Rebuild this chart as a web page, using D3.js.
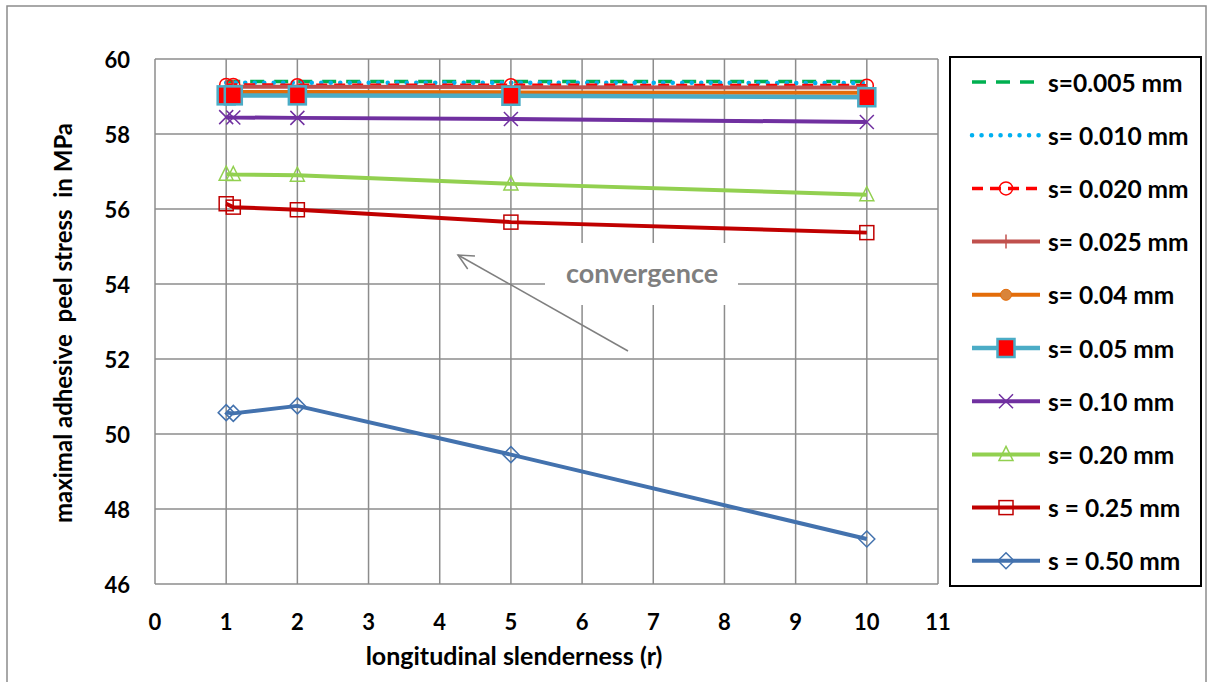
<!DOCTYPE html>
<html><head><meta charset="utf-8">
<script src="https://cdn.jsdelivr.net/npm/d3@7"></script>
<style>body{margin:0;background:#fff}svg{display:block}text{font-family:Lato,"Open Sans",sans-serif;font-weight:700}</style>
</head><body>
<svg id="c" width="1213" height="682"></svg>
<script>
const xValues = [1, 1.1, 2, 5, 10];
const seriesNames = ["s=0.005 mm","s= 0.010 mm","s= 0.020 mm","s= 0.025 mm","s= 0.04 mm","s= 0.05 mm","s= 0.10 mm","s= 0.20 mm","s = 0.25 mm","s = 0.50 mm"];
const s005 = [59.40, 59.40, 59.40, 59.40, 59.40];
const s010 = [59.37, 59.37, 59.37, 59.37, 59.36];
const s020 = [59.31, 59.31, 59.30, 59.30, 59.29];
const s025 = [59.26, 59.26, 59.26, 59.25, 59.24];
const s040 = [59.12, 59.12, 59.12, 59.11, 59.10];
const s050 = [59.03, 59.03, 59.03, 59.02, 58.98];
const s100 = [58.45, 58.44, 58.43, 58.40, 58.32];
const s200 = [56.93, 56.92, 56.90, 56.67, 56.38];
const s250 = [56.14, 56.05, 55.98, 55.65, 55.37];
const s500 = [50.57, 50.55, 50.75, 49.45, 47.20];
const xTicks = [0,1,2,3,4,5,6,7,8,9,10,11];
const yTicks = [46,48,50,52,54,56,58,60];
const xTitle = "longitudinal slenderness (r)";
const yTitle = "maximal adhesive  peel stress  in MPa";
const noteText = "convergence";

const styles = [
  {c:"#00B050", w:3.5, dash:"14,10", m:null},
  {c:"#00B0F0", w:4.5, dash:"0.1,9.4", cap:"round", m:null},
  {c:"#FF0000", w:3.5, dash:"11,7", m:"circle"},
  {c:"#C0504D", w:4, m:"plus"},
  {c:"#E36C09", w:4, m:"dot"},
  {c:"#4BACC6", w:4.5, m:"bigsquare"},
  {c:"#7030A0", w:4, m:"x"},
  {c:"#92D050", w:4, m:"triangle"},
  {c:"#C00000", w:4, m:"square"},
  {c:"#4372AE", w:4, m:"diamond"}
];
const allSeries = [s005,s010,s020,s025,s040,s050,s100,s200,s250,s500];

const svg = d3.select("#c");
const x = d3.scaleLinear().domain([0,11]).range([155,938]);
const y = d3.scaleLinear().domain([46,60]).range([584,59]);

// outer frame
svg.append("rect").attr("x",7).attr("y",6).attr("width",1199).attr("height",690)
  .attr("fill","none").attr("stroke","#8c8c8c").attr("stroke-width",1.5);

const gridC = "#8c8c8c";
const g = svg.append("g");
g.selectAll(".vx").data(xTicks).join("line")
  .attr("x1",d=>x(d)).attr("x2",d=>x(d)).attr("y1",y(60)).attr("y2",y(46))
  .attr("stroke",gridC).attr("stroke-width",1.5);
g.selectAll(".hy").data(yTicks).join("line")
  .attr("x1",x(0)).attr("x2",x(11)).attr("y1",d=>y(d)).attr("y2",d=>y(d))
  .attr("stroke",gridC).attr("stroke-width",1.5);

// tick labels
svg.selectAll(".yt").data(yTicks).join("text")
  .attr("x",130).attr("y",d=>y(d)).attr("text-anchor","end").attr("dominant-baseline","central")
  .attr("font-size",22).attr("fill","#000").text(d=>d);
svg.selectAll(".xt").data(xTicks).join("text")
  .attr("x",d=>x(d)).attr("y",621).attr("text-anchor","middle").attr("dominant-baseline","central")
  .attr("font-size",22).attr("fill","#000").text(d=>d);

svg.append("text").attr("x",514).attr("y",655).attr("text-anchor","middle").attr("dominant-baseline","central")
  .attr("font-size",25).text(xTitle);
svg.append("text").attr("transform","translate(62,323) rotate(-90)").attr("text-anchor","middle")
  .attr("dominant-baseline","central").attr("font-size",24).attr("xml:space","preserve").style("white-space","pre").text(yTitle);

// annotation box
svg.append("rect").attr("x",545).attr("y",243).attr("width",193).attr("height",62).attr("fill","#fff");
svg.append("text").attr("x",642).attr("y",272).attr("text-anchor","middle").attr("dominant-baseline","central")
  .attr("font-size",27).attr("fill","#7f7f7f").text(noteText);
// arrow
const ax1=628, ay1=351, ax2=458, ay2=255;
svg.append("line").attr("x1",ax1).attr("y1",ay1).attr("x2",ax2).attr("y2",ay2)
  .attr("stroke","#7f7f7f").attr("stroke-width",1.5);
{
  const ang = Math.atan2(ay1-ay2, ax1-ax2), L=17, a=0.45;
  const p = d3.path();
  p.moveTo(ax2+L*Math.cos(ang+a), ay2+L*Math.sin(ang+a));
  p.lineTo(ax2,ay2);
  p.lineTo(ax2+L*Math.cos(ang-a), ay2+L*Math.sin(ang-a));
  svg.append("path").attr("d",p.toString()).attr("fill","none").attr("stroke","#7f7f7f").attr("stroke-width",1.5);
}

function drawMarker(sel, type, cx, cy, col) {
  const s = sel.append("g").attr("transform",`translate(${cx},${cy})`);
  if (type==="circle") s.append("circle").attr("r",6.5).attr("fill","none").attr("stroke",col).attr("stroke-width",1.5);
  else if (type==="plus") { s.append("line").attr("x1",0).attr("x2",0).attr("y1",-7).attr("y2",7).attr("stroke",col).attr("stroke-width",1.5); }
  else if (type==="dot") s.append("circle").attr("r",5.5).attr("fill","#D9843A").attr("stroke",col).attr("stroke-width",1);
  else if (type==="bigsquare") s.append("rect").attr("x",-8.5).attr("y",-9).attr("width",17).attr("height",18).attr("fill","#FF0000").attr("stroke",col).attr("stroke-width",2.5);
  else if (type==="x") { s.append("path").attr("d","M-7,-7L7,7M-7,7L7,-7").attr("stroke",col).attr("stroke-width",1.5); }
  else if (type==="triangle") s.append("path").attr("d","M0,-8L7,6L-7,6Z").attr("fill","none").attr("stroke",col).attr("stroke-width",1.5);
  else if (type==="square") s.append("rect").attr("x",-7).attr("y",-7).attr("width",14).attr("height",14).attr("fill","none").attr("stroke",col).attr("stroke-width",1.5);
  else if (type==="diamond") s.append("path").attr("d","M0,-8L8,0L0,8L-8,0Z").attr("fill","none").attr("stroke",col).attr("stroke-width",1.5);
}

const line = d3.line().x(d=>x(d[0])).y(d=>y(d[1]));
const plotG = svg.append("g");
allSeries.forEach((vals,i)=>{
  const st = styles[i];
  const pts = xValues.map((xv,j)=>[xv,vals[j]]);
  const sg = plotG.append("g");
  sg.append("path").attr("d",line(pts)).attr("fill","none").attr("stroke",st.c).attr("stroke-width",st.w)
    .attr("stroke-dasharray",st.dash||null).attr("stroke-linecap",st.cap||"butt").attr("stroke-linejoin","round");
  if (st.m) pts.forEach(p=>drawMarker(sg, st.m, x(p[0]), y(p[1]), st.c));
});

// legend
svg.append("rect").attr("x",950).attr("y",57).attr("width",251).attr("height",529)
  .attr("fill","#fff").attr("stroke","#000").attr("stroke-width",2);
seriesNames.forEach((name,i)=>{
  const st = styles[i];
  const cy = 82 + i*53.2;
  const lg = svg.append("g");
  lg.append("line").attr("x1",972).attr("x2",1040).attr("y1",cy).attr("y2",cy)
    .attr("stroke",st.c).attr("stroke-width",st.w).attr("stroke-dasharray",st.dash||null).attr("stroke-linecap",st.cap||"butt");
  if (st.m) drawMarker(lg, st.m, 1006, cy, st.c);
  lg.append("text").attr("x",1048).attr("y",cy).attr("dominant-baseline","central").attr("font-size",24.5).text(name);
});
</script>
</body></html>
